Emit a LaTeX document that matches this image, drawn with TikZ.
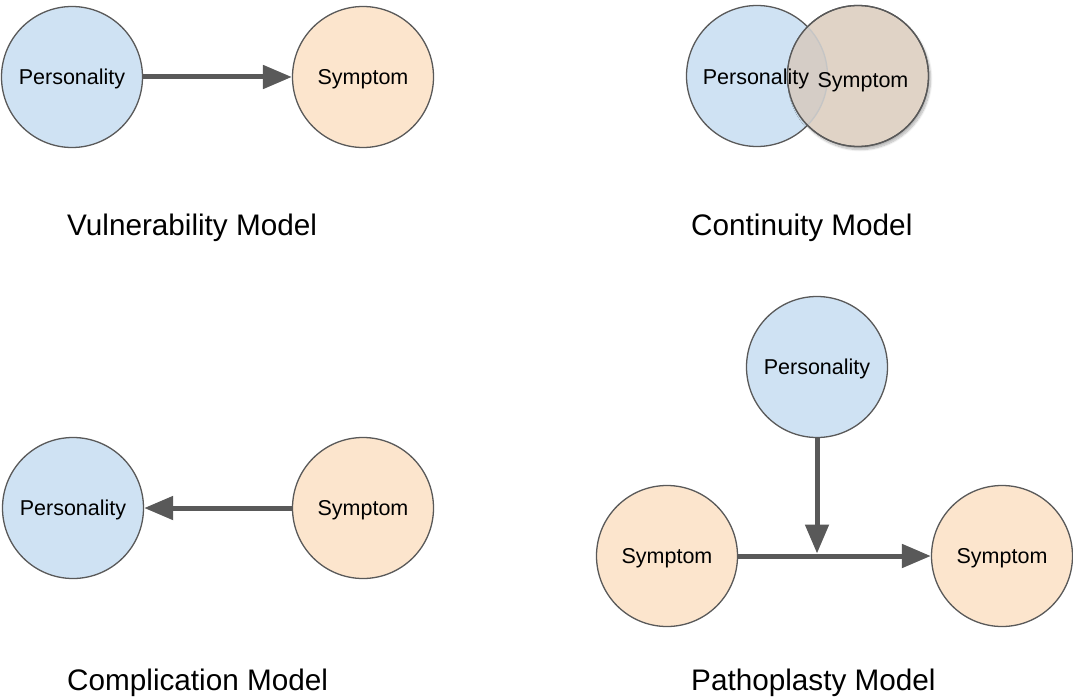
\documentclass[tikz,border=0pt]{standalone}
\usepackage{fontspec}
\setmainfont{Liberation Sans}
\usetikzlibrary{arrows.meta,shadows.blur}

\definecolor{persfill}{HTML}{CFE2F3}
\definecolor{sympfill}{HTML}{FCE5CD}
\definecolor{mixfill}{RGB}{224,211,198}
\definecolor{bothfill}{RGB}{213,205,198}
\definecolor{edge}{HTML}{595959}

\tikzset{
  word/.style={inner sep=0pt, text height=17.6pt, text depth=2.6pt,
    font=\fontsize{21.5}{24}\selectfont},
  bubble/.style={word, circle, draw=edge, line width=1.3pt, minimum size=141pt},
  pers/.style={bubble, fill=persfill},
  symp/.style={bubble, fill=sympfill},
  link/.style={draw=edge, line width=5pt,
    -{Triangle[length=29pt,width=23pt]}},
  title/.style={anchor=base west, inner sep=0pt,
    font=\fontsize{29.7}{34}\selectfont}
}

\begin{document}
\begin{tikzpicture}[x=1pt, y=-1pt]
\useasboundingbox (0,0) rectangle (1073,698);

% Vulnerability model
\node[pers] (vp) at (72,77) {Personality};
\node[symp] (vs) at (363,77) {Symptom};
\draw[link] (vp) -- (vs);
\node[title] (vt) at (67,235) {Vulnerability Model};

% Continuity model: two overlapping circles, the second one with a soft shadow
\node[pers] (cp) at (757,76) {};
\node[bubble, fill=mixfill,
  blur shadow={shadow xshift=2pt, shadow yshift=-3pt,
    shadow opacity=30, shadow blur steps=10}] (cs) at (858,76) {};
\begin{scope}
  \clip (cp.center) circle (70.5pt);
  \fill[bothfill] (cs.center) circle (70.5pt);
\end{scope}
\begin{scope}
  \clip (cs.center) circle (70.5pt);
  \draw[edge!35, line width=1.3pt] (cp.center) circle (70.5pt);
\end{scope}
\draw[edge, line width=1.3pt] (cs.center) circle (70.5pt);
\node[word] (cpt) at (756,77) {Personality};
\node[word] (cst) at (863,80) {Symptom};
\node[title] (ct) at (691,235) {Continuity Model};

% Complication model
\node[pers] (kp) at (73,508) {Personality};
\node[symp] (ks) at (363,508) {Symptom};
\draw[link] (ks) -- (kp);
\node[title] (kt) at (67,690) {Complication Model};

% Pathoplasty model
\node[pers] (pp) at (817,367) {Personality};
\node[symp] (ps1) at (667,556) {Symptom};
\node[symp] (ps2) at (1002,556) {Symptom};
\coordinate (pj) at (817,556);
\draw[link] (ps1) -- (ps2);
\draw[link, shorten >=2.5pt] (pp) -- (pj);
\node[title] (pt) at (691,690) {Pathoplasty Model};
\end{tikzpicture}
\end{document}
